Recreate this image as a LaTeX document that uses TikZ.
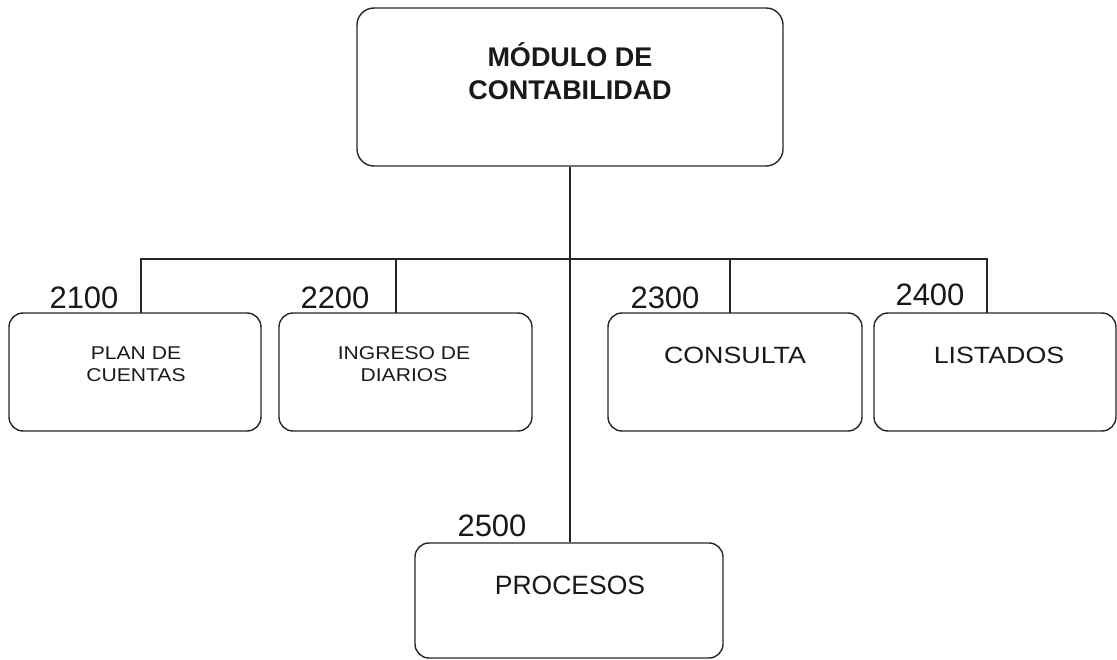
\documentclass[tikz,border=0pt]{standalone}
\usepackage{fontspec}
\setmainfont{Liberation Sans}
\newfontfamily\widefont[FakeStretch=1.14]{Liberation Sans}
\begin{document}
\begin{tikzpicture}[x=1pt,y=-1pt,
  box/.style={draw=black!85, line width=1.4pt, rounded corners=14pt, inner sep=0pt},
  conn/.style={draw=black!85, line width=1.3pt},
  num/.style={font=\fontsize{31}{31}\selectfont, inner sep=0pt, text=black!90},
  small/.style={font=\widefont\fontsize{18.5}{22}\selectfont, align=center, inner sep=0pt, text=black!90},
  mid/.style={font=\widefont\fontsize{23.5}{28}\selectfont, inner sep=0pt, text=black!90},
  big/.style={font=\fontsize{26.5}{30}\selectfont, inner sep=0pt, text=black!90},
  title/.style={font=\bfseries\fontsize{27}{33}\selectfont, align=center, inner sep=0pt, text=black!90}]
\useasboundingbox (0,0) rectangle (1117,660);
% boxes
\node[box, minimum width=426pt, minimum height=158pt, rounded corners=17pt] (top) at (570,87) {};
\node[box, minimum width=252pt, minimum height=118pt] (b1) at (135,372) {};
\node[box, minimum width=253pt, minimum height=118pt] (b2) at (405.5,372) {};
\node[box, minimum width=254pt, minimum height=118pt] (b3) at (735,372) {};
\node[box, minimum width=242pt, minimum height=118pt] (b4) at (995,372) {};
\node[box, minimum width=308pt, minimum height=115pt] (b5) at (569,600.5) {};
% texts
\node[title] (ttop) at (570,71) {MÓDULO DE\\CONTABILIDAD};
\node[small] (t1) at (136,364) {PLAN DE\\CUENTAS};
\node[small] (t2) at (404,364) {INGRESO DE\\DIARIOS};
\node[mid] (t3) at (735,355) {CONSULTA};
\node[mid] (t4) at (999,355) {LISTADOS};
\node[big] (t5) at (570,585) {PROCESOS};
% numbers
\node[num] (n1) at (84,298) {2100};
\node[num] (n2) at (335,298) {2200};
\node[num] (n3) at (665,298) {2300};
\node[num] (n4) at (930,295) {2400};
\node[num] (n5) at (492,526) {2500};
% connectors
\coordinate (bar) at (570,259);
\coordinate (d1) at (141,313);
\coordinate (d2) at (396,313);
\coordinate (d3) at (730,313);
\coordinate (d4) at (987,313);
\draw[conn] (top.south -| bar) -- (b5.north -| bar);
\draw[conn] (d1) -- (d1 |- bar) -- (d4 |- bar) -- (d4);
\draw[conn] (d2) -- (d2 |- bar);
\draw[conn] (d3) -- (d3 |- bar);
\end{tikzpicture}
\end{document}
